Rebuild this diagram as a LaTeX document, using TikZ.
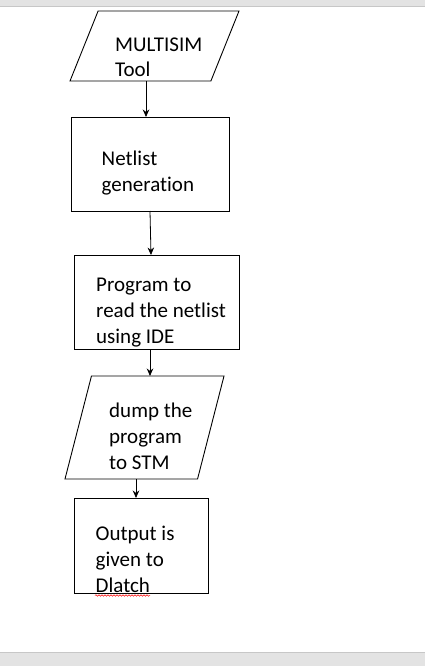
\documentclass[tikz,border=0pt]{standalone}
\usepackage{fontspec}
\setmainfont{Carlito}[Ligatures=NoCommon]
\usetikzlibrary{shapes.geometric,arrows.meta,decorations.pathmorphing}

\tikzset{
  stepbox/.style={draw,line width=0.9pt,outer sep=0pt,inner sep=0pt},
  iobox/.style={draw,line width=0.9pt,outer sep=0pt,inner sep=2pt,trapezium,trapezium left angle=76,trapezium right angle=104,trapezium stretches=true},
  lbl/.style={anchor=base west,inner sep=0pt,align=left,font=\fontsize{21}{25.8}\selectfont},
  arr/.style={-{Stealth[length=7.5pt,width=6.5pt]},line width=0.8pt}
}

\begin{document}
\begin{tikzpicture}[x=1pt,y=-1pt]
\useasboundingbox (0,0) rectangle (425,666);
% window bars
\fill [black!11] (0,0) rectangle (425,6);
\draw [black!22] (0,6) -- (425,6);
\fill [black!11] (0,652) rectangle (425,666);
\draw [black!22] (0,652) -- (425,652);

% text nodes sit on the baseline of their last line
\node [iobox,minimum width=169pt,minimum height=70pt] (p1) at (154.5,46) {};
\node [lbl] (t1) at (115,77) {MULTISIM\\Tool};

\node [stepbox,minimum width=158pt,minimum height=94pt] (b2) at (150,164) {};
\node [lbl] (t2) at (101.5,191) {Netlist\\generation};

\node [stepbox,minimum width=165pt,minimum height=94pt] (b3) at (156.8,302) {};
\node [lbl] (t3) at (96,343.5) {Program to\\read the netlist\\using IDE};

\node [iobox,minimum width=159pt,minimum height=103pt] (p4) at (144.5,427.5) {};
\node [lbl] (t4) at (109,469) {dump the\\program\\to STM};

\node [stepbox,minimum width=134pt,minimum height=95pt] (b5) at (141,545.5) {};
\node [lbl] (t5) at (95.5,592) {Output is\\given to\\Dlatch};

% spell-check squiggle
\draw [red,line width=0.5pt,decorate,decoration={snake,amplitude=0.8pt,segment length=3pt}] (95,595.5) -- (150,595.5);

\draw [arr] ([xshift=-8.5pt]p1.south) -- ([xshift=-4pt]b2.north);
\draw [arr] (b2.south) -- ([xshift=-5.8pt]b3.north);
\draw [arr] ([xshift=-6.8pt]b3.south) -- ([xshift=5.5pt]p4.north);
\draw [arr] ([xshift=-8.5pt]p4.south) -- ([xshift=-5pt]b5.north);
\end{tikzpicture}
\end{document}
